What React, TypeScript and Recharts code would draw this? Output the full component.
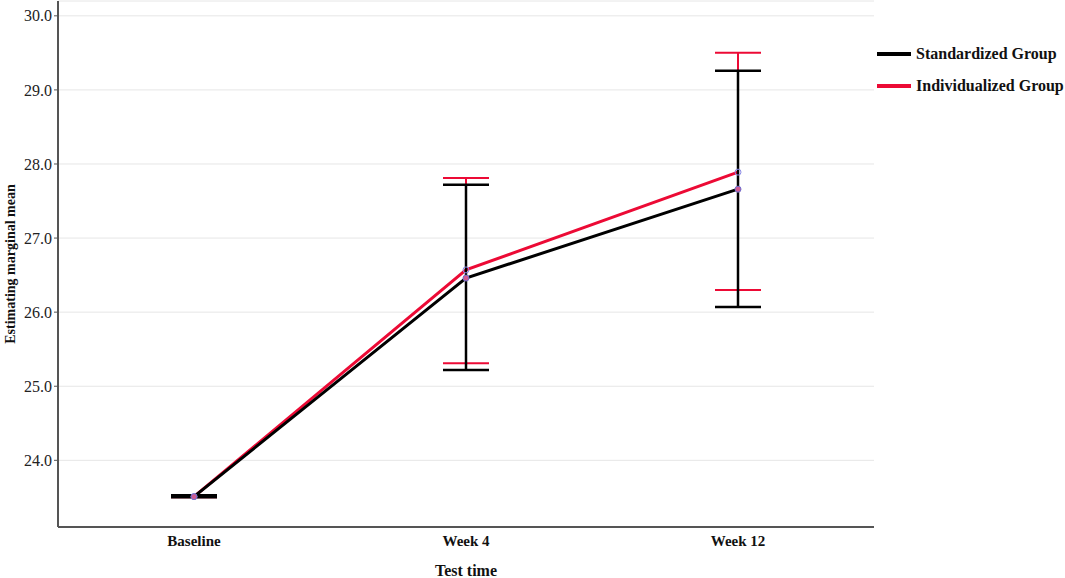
import {
  LineChart,
  Line,
  XAxis,
  YAxis,
  CartesianGrid,
  ErrorBar,
  Label,
} from 'recharts';

const categories = ['Baseline', 'Week 4', 'Week 12'];

const standardizedMean = [23.51, 26.46, 27.66];
const standardizedLow = [23.5, 25.22, 26.07];
const standardizedHigh = [23.53, 27.72, 29.26];

const individualizedMean = [23.51, 26.57, 27.89];
const individualizedLow = [23.5, 25.31, 26.3];
const individualizedHigh = [23.53, 27.81, 29.5];

const yTicks = [24, 25, 26, 27, 28, 29, 30];

const FONT = "'Liberation Serif', 'Times New Roman', serif";
const BLACK = '#000000';
const RED = '#ec0a35';

const data = categories.map((name, i) => ({
  name,
  standardized: standardizedMean[i],
  standardizedErr: [standardizedMean[i] - standardizedLow[i], standardizedHigh[i] - standardizedMean[i]],
  individualized: individualizedMean[i],
  individualizedErr: [individualizedMean[i] - individualizedLow[i], individualizedHigh[i] - individualizedMean[i]],
}));

const legendItems = [
  { label: 'Standardized Group', color: BLACK },
  { label: 'Individualized Group', color: RED },
];

const YTitle = ({ viewBox }: any) => {
  const cy = viewBox.y + viewBox.height / 2;
  return (
    <text
      x={10}
      y={cy}
      transform={`rotate(-90, 10, ${cy})`}
      textAnchor="middle"
      dominantBaseline="central"
      fontFamily={FONT}
      fontWeight="bold"
      fontSize={14}
      fill="#111"
    >
      Estimating marginal mean
    </text>
  );
};

const XTitle = ({ viewBox }: any) => {
  const cx = viewBox.x + viewBox.width / 2;
  return (
    <text
      x={cx}
      y={570}
      textAnchor="middle"
      dominantBaseline="central"
      fontFamily={FONT}
      fontWeight="bold"
      fontSize={16}
      fill="#111"
    >
      Test time
    </text>
  );
};

export default function App() {
  return (
    <div style={{ position: 'absolute', left: 0, top: 0, width: 1065, height: 578, background: '#fff' }}>
      <LineChart
        width={1065}
        height={578}
        data={data}
        margin={{ top: 1, right: 191, left: 0, bottom: 0 }}
      >
        <CartesianGrid stroke="#e6e6e6" vertical={false} />
        <XAxis
          dataKey="name"
          padding={{ left: 136, right: 136 }}
          height={51}
          axisLine={{ stroke: '#555', strokeWidth: 2 }}
          tickLine={false}
          tickSize={6}
          tick={{ fontFamily: FONT, fontWeight: 'bold', fontSize: 15, fill: '#111' }}
        >
          <Label content={XTitle} />
        </XAxis>
        <YAxis
          domain={[23.1, 30.2]}
          ticks={yTicks}
          allowDataOverflow
          width={58}
          axisLine={{ stroke: '#555', strokeWidth: 2 }}
          tickLine={{ stroke: '#555' }}
          tickSize={4}
          tickFormatter={(v: number) => v.toFixed(1)}
          tick={{ fontFamily: FONT, fontSize: 16, fill: '#222' }}
        >
          <Label content={YTitle} />
        </YAxis>
        <Line
          dataKey="individualized"
          name="Individualized Group"
          stroke={RED}
          strokeWidth={3}
          dot={{ r: 3, stroke: '#8a8ae6', strokeWidth: 1, fill: 'none' }}
          activeDot={false}
          isAnimationActive={false}
        >
          <ErrorBar
            dataKey="individualizedErr"
            direction="y"
            width={23}
            stroke={RED}
            strokeWidth={2}
            isAnimationActive={false}
          />
        </Line>
        <Line
          dataKey="standardized"
          name="Standardized Group"
          stroke={BLACK}
          strokeWidth={3}
          dot={{ r: 3, stroke: '#7070d0', strokeWidth: 1, fill: '#d05a90' }}
          activeDot={false}
          isAnimationActive={false}
        >
          <ErrorBar
            dataKey="standardizedErr"
            direction="y"
            width={23}
            stroke={BLACK}
            strokeWidth={2.5}
            isAnimationActive={false}
          />
        </Line>
      </LineChart>
      <div style={{ position: 'absolute', left: 877, top: 39, fontFamily: FONT }}>
        {legendItems.map((item, i) => (
          <div
            key={item.label}
            style={{ display: 'flex', alignItems: 'center', height: 30, marginBottom: i === 0 ? 2 : 0 }}
          >
            <div style={{ width: 34, height: 4, background: item.color, marginRight: 5 }} />
            <span style={{ fontSize: 16, fontWeight: 'bold', color: '#111' }}>{item.label}</span>
          </div>
        ))}
      </div>
    </div>
  );
}
